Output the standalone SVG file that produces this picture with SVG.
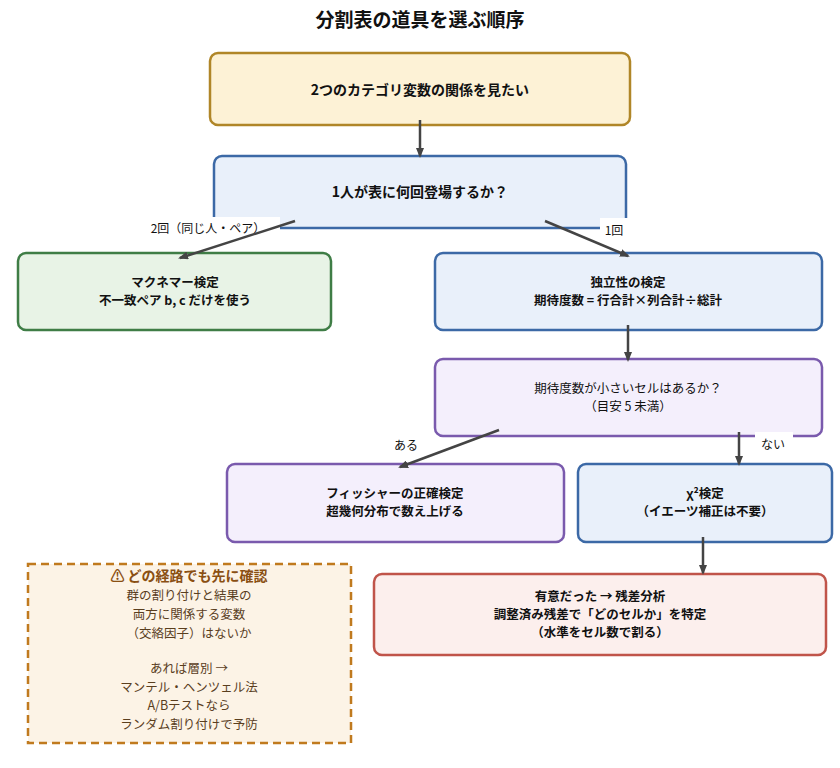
<svg xmlns="http://www.w3.org/2000/svg" width="840" height="768" viewBox="0 0 840 768">
<style>
text{font-family:"Noto Sans CJK JP","Noto Sans",sans-serif;text-anchor:middle;fill:#111}
.b{font-weight:bold;font-size:12.5px}
.n{font-size:12.5px}
.l{font-size:12px}
.e{stroke:#444;stroke-width:2.5;fill:none;marker-end:url(#a)}
</style>
<defs><marker id="a" markerWidth="10" markerHeight="8" refX="8" refY="4" orient="auto" markerUnits="userSpaceOnUse"><path d="M0,0L10,4L0,8z" fill="#444"/></marker></defs>
<rect width="840" height="768" fill="#fff"/>
<text x="420" y="27" style="font-size:19px;font-weight:bold">分割表の道具を選ぶ順序</text>
<g id="n1"><rect x="210" y="53" width="420" height="72" rx="8" fill="#fdf2d6" stroke="#b08628" stroke-width="2.5"/><text x="420" y="95" class="b" style="font-size:14px">2つのカテゴリ変数の関係を見たい</text></g>
<g id="n2"><rect x="214" y="156" width="412" height="72" rx="8" fill="#e9f0fa" stroke="#3c69a6" stroke-width="2.5"/><text x="420" y="197" class="b" style="font-size:14px">1人が表に何回登場するか？</text></g>
<g id="n3"><rect x="18" y="253" width="313" height="77" rx="8" fill="#e8f3e6" stroke="#3f7d46" stroke-width="2.5"/><text x="175" y="287" class="b">マクネマー検定</text><text x="175" y="305" class="b">不一致ペア b, c だけを使う</text></g>
<g id="n4"><rect x="435" y="253" width="387" height="77" rx="8" fill="#e9f0fa" stroke="#3c69a6" stroke-width="2.5"/><text x="628" y="287" class="b">独立性の検定</text><text x="628" y="305" class="b">期待度数 = 行合計×列合計÷総計</text></g>
<g id="n5"><rect x="435" y="359" width="387" height="77" rx="8" fill="#f4effc" stroke="#7a5aad" stroke-width="2.5"/><text x="628" y="393" class="n">期待度数が小さいセルはあるか？</text><text x="628" y="411" class="n">（目安 5 未満）</text></g>
<g id="n6"><rect x="227" y="464" width="337" height="78" rx="8" fill="#f4effc" stroke="#7a5aad" stroke-width="2.5"/><text x="395" y="498" class="b">フィッシャーの正確検定</text><text x="395" y="516" class="b">超幾何分布で数え上げる</text></g>
<g id="n7"><rect x="578" y="464" width="254" height="78" rx="8" fill="#e9f0fa" stroke="#3c69a6" stroke-width="2.5"/><text x="705" y="498" class="b">χ²検定</text><text x="705" y="516" class="b">（イエーツ補正は不要）</text></g>
<g id="n8"><rect x="374" y="574" width="452" height="81" rx="8" fill="#fcefed" stroke="#c0544a" stroke-width="2.5"/><text x="600" y="601" class="b">有意だった → 残差分析</text><text x="600" y="619" class="b">調整済み残差で「どのセルか」を特定</text><text x="600" y="637" class="b">（水準をセル数で割る）</text></g>
<g id="note"><rect x="28" y="564" width="323" height="179" fill="#fcf3e6" stroke="#c07a1e" stroke-width="2.5" stroke-dasharray="8,5"/>
<text x="189" y="581" style="font-size:14px;font-weight:bold;fill:#8a4f12">⚠ どの経路でも先に確認</text>
<text x="189" y="600" class="n" style="fill:#5a3e1e">群の割り付けと結果の</text>
<text x="189" y="619" class="n" style="fill:#5a3e1e">両方に関係する変数</text>
<text x="189" y="638" class="n" style="fill:#5a3e1e">（交絡因子）はないか</text>
<text x="189" y="673" class="n" style="fill:#5a3e1e">あれば層別 →</text>
<text x="189" y="692" class="n" style="fill:#5a3e1e">マンテル・ヘンツェル法</text>
<text x="189" y="710" class="n" style="fill:#5a3e1e">A/Bテストなら</text>
<text x="189" y="729" class="n" style="fill:#5a3e1e">ランダム割り付けで予防</text>
</g>
<g id="connectors">
<rect x="140" y="217" width="140" height="20" fill="#fff"/>
<text x="208" y="233" class="l">2回（同じ人・ペア）</text>
<rect x="600" y="218" width="28" height="20" fill="#fff"/>
<text x="614" y="235" class="l">1回</text>
<rect x="388" y="435" width="36" height="20" fill="#fff"/>
<text x="406" y="450" class="l">ある</text>
<rect x="755" y="432" width="38" height="20" fill="#fff"/>
<text x="773" y="449" class="l">ない</text>
<path class="e" d="M420,120V156"/>
<path class="e" d="M295,221L180,258"/>
<path class="e" d="M545,221L628,256"/>
<path class="e" d="M628,325V360"/>
<path class="e" d="M499,430L400,467"/>
<path class="e" d="M739,432V464"/>
<path class="e" d="M703,537V573"/>
</g>
</svg>
